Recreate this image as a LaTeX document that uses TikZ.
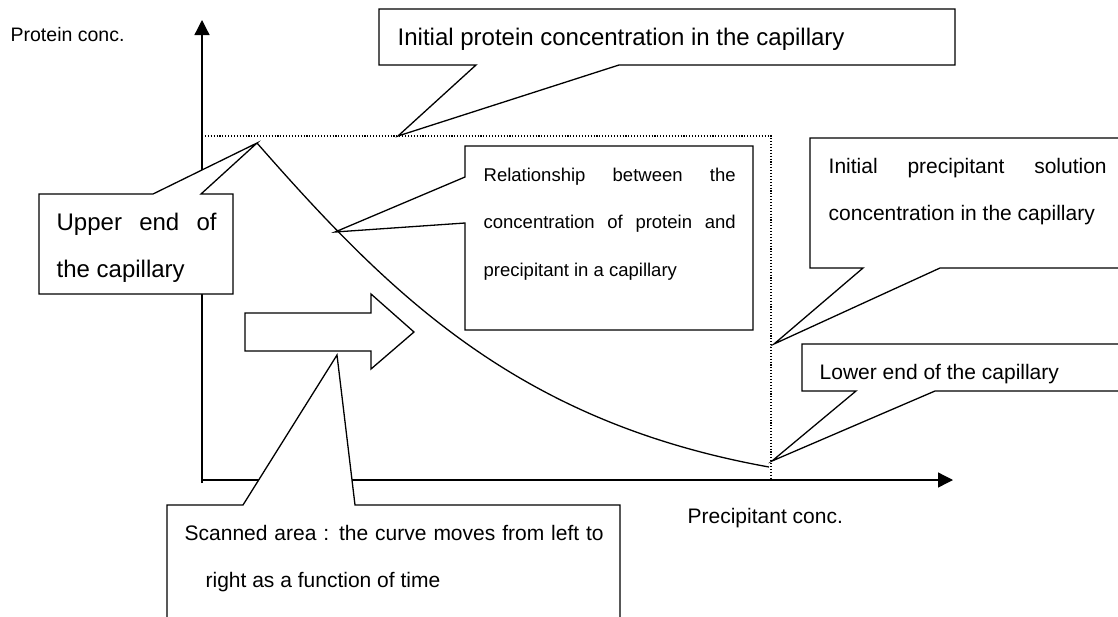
\documentclass[tikz,border=0pt]{standalone}
\usepackage{fontspec}
\setmainfont{Liberation Sans}
\usetikzlibrary{arrows.meta}
\hyphenpenalty=10000
\tolerance=10000
\hbadness=10000
\begin{document}
\begin{tikzpicture}[x=0.5pt,y=-0.5pt,line width=0.65pt,
        callout/.style={draw,fill=white},
        guide/.style={line width=0.55pt,dash pattern=on 0.55pt off 0.9pt},
        axis/.style={-{Triangle[width=7.5pt,length=7.5pt]}},
        lbl/.style={inner sep=0pt,anchor=base west},
        big/.style={font=\fontsize{12}{23.75}\selectfont},
        mid/.style={font=\fontsize{10.5}{23.75}\selectfont},
        small/.style={font=\fontsize{9.25}{23.75}\selectfont}]
        \useasboundingbox (0,0) rectangle (1118,616);
        \clip (0,0) rectangle (1118,616);
        % axes
        \coordinate (O) at (202,483);
        \coordinate (Ytop) at (202,20);
        \coordinate (Xo) at (202,480);
        \coordinate (Xend) at (953,480);
        \draw[axis] (O)--(Ytop);
        \draw[axis] (Xo)--(Xend);
        \node[lbl,font=\fontsize{9.75}{12}\selectfont] (ylabel) at (10,41) {Protein conc.};
        \node[lbl,font=\fontsize{10.5}{12}\selectfont] (xlabel) at (687,523) {Precipitant conc.};
        % initial concentrations
        \coordinate (P0) at (202,136);
        \coordinate (P1) at (771,136);
        \coordinate (P2) at (771,480);
        \draw[guide] (P0)--(P1)--(P2);
        % curve
        \coordinate (top) at (257,143);
        \coordinate (bot) at (769,467);
        \draw (top) .. controls (392,297) and (519,422) .. (bot);
        % callouts
        \filldraw[callout] (379,9)--(955,9)--(955,65)--(619,65)--(398,136)--(476,65)--(379,65)--cycle;
        \node[lbl,big] (initprot) at (397,45) {Initial protein concentration in the capillary};
        \filldraw[callout] (39,194)--(153,194)--(top)--(201,194)--(233,194)--(233,294)--(39,294)--cycle;
        \node[lbl,big,text width=80pt,align=justify] (upper) at (56,230) {Upper end of\linebreak the capillary};
        \filldraw[callout] (465,146)--(753,146)--(753,330)--(465,330)--(465,223)--(335,232)--(465,177)--cycle;
        \node[lbl,small,text width=126pt,align=justify] (relation) at (483,181) {Relationship between the\linebreak concentration of protein and\linebreak precipitant in a capillary};
        \filldraw[callout] (810,138)--(1125,138)--(1125,268)--(940,268)--(774,344)--(863,268)--(810,268)--cycle;
        \node[lbl,mid,text width=139pt,align=justify] (initprec) at (828,173) {Initial precipitant solution\linebreak concentration in the capillary};
        \filldraw[callout] (802,344)--(1125,344)--(1125,391)--(935,391)--(772,461)--(856,391)--(802,391)--cycle;
        \node[lbl,mid] (lower) at (819,379) {Lower end of the capillary};
        \filldraw[callout] (167,505)--(243,505)--(337,355)--(355,505)--(620,505)--(620,630)--(167,630)--cycle;
        \node[lbl,mid,text width=209.5pt,align=justify] (scan) at (184,540) {Scanned area : the curve moves from left to\linebreak\hspace*{10.5pt}right as a function of time};
        % scan direction
        \filldraw[callout] (245,313)--(371,313)--(371,294)--(414,332)--(371,369)--(371,351)--(245,351)--cycle;
    \end{tikzpicture}
\end{document}
